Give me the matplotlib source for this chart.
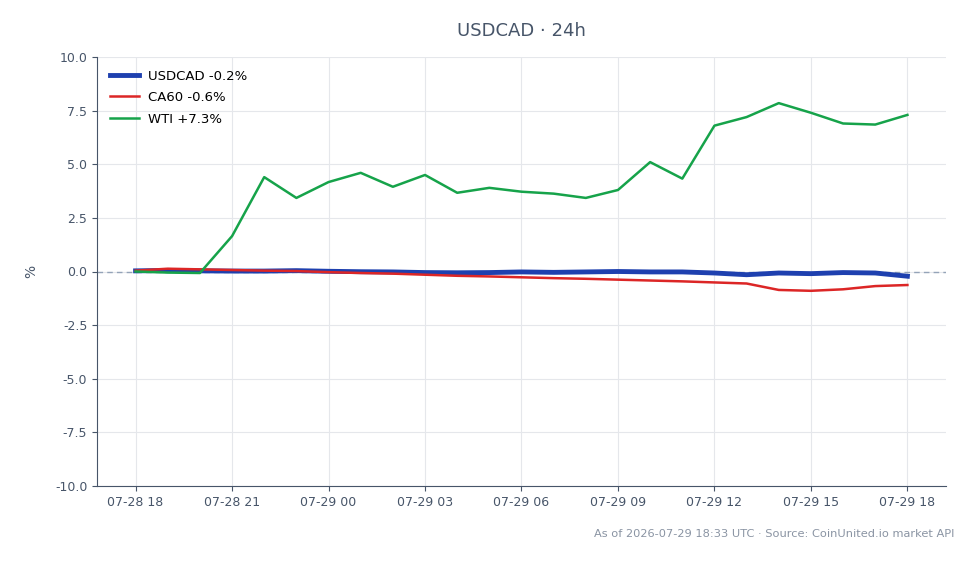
import numpy as np
import pandas as pd
import matplotlib
matplotlib.use("Agg")
import matplotlib.pyplot as plt
import matplotlib.dates as mdates

# hourly timestamps, 24h window
times = pd.date_range("2026-07-28 18:00", "2026-07-29 18:00", freq="h")

usdcad = [0.03, 0.05, 0.03, 0.02, 0.02, 0.04, 0.01, -0.01, -0.02, -0.05, -0.06, -0.05, -0.02,
          -0.04, -0.02, 0.0, -0.02, -0.02, -0.07, -0.15, -0.07, -0.10, -0.05, -0.07, -0.22]
ca60 = [0.04, 0.13, 0.10, 0.07, 0.04, 0.02, -0.03, -0.07, -0.10, -0.15, -0.20, -0.23, -0.27,
        -0.31, -0.34, -0.38, -0.42, -0.46, -0.51, -0.56, -0.86, -0.90, -0.83, -0.68, -0.63]
wti = [0.0, -0.05, -0.07, 1.65, 4.4, 3.43, 4.17, 4.6, 3.95, 4.5, 3.67, 3.9, 3.72,
       3.63, 3.43, 3.8, 5.1, 4.33, 6.8, 7.2, 7.85, 7.4, 6.9, 6.85, 7.3]

labels = ["USDCAD -0.2%", "CA60 -0.6%", "WTI +7.3%"]
colors = ["#1e40af", "#dc2626", "#16a34a"]

slate = "#475569"

fig = plt.figure(figsize=(9.78, 5.64), dpi=100)
ax = fig.add_axes([97 / 978, 1 - 486 / 564, 849 / 978, 429 / 564])

ax.axhline(0, color="#94a3b8", lw=1, ls=(0, (4, 3)), zorder=1)
ax.plot(times, usdcad, color=colors[0], lw=3.5, label=labels[0], zorder=3)
ax.plot(times, ca60, color=colors[1], lw=1.8, label=labels[1], zorder=3)
ax.plot(times, wti, color=colors[2], lw=1.8, label=labels[2], zorder=3)

ax.set_ylim(-10, 10)
ax.set_yticks(np.arange(-10, 10.1, 2.5))
ax.yaxis.set_major_formatter(matplotlib.ticker.FormatStrFormatter("%.1f"))
ax.xaxis.set_major_locator(mdates.HourLocator(byhour=range(0, 24, 3)))
ax.xaxis.set_major_formatter(mdates.DateFormatter("%m-%d %H"))

ax.grid(True, color="#e5e7eb", lw=0.8)
ax.set_axisbelow(True)
for s in ["top", "right"]:
    ax.spines[s].set_visible(False)
for s in ["left", "bottom"]:
    ax.spines[s].set_color(slate)
ax.tick_params(colors=slate, labelsize=9)
ax.set_ylabel("%", color=slate, fontsize=10, labelpad=12)

leg = ax.legend(loc="upper left", frameon=False, fontsize=9.5, handlelength=2.2,
                handletextpad=0.7, labelspacing=0.65, borderaxespad=0.55)

fig.text(521 / 978, 1 - 31 / 564, "USDCAD · 24h", ha="center", va="center",
         fontsize=13, color=slate)
fig.text(955 / 978, 1 - 534 / 564, "As of 2026-07-29 18:33 UTC · Source: CoinUnited.io market API",
         ha="right", va="center", fontsize=8.2, color="#8a94a3")

fig.savefig("out.png", dpi=100)
